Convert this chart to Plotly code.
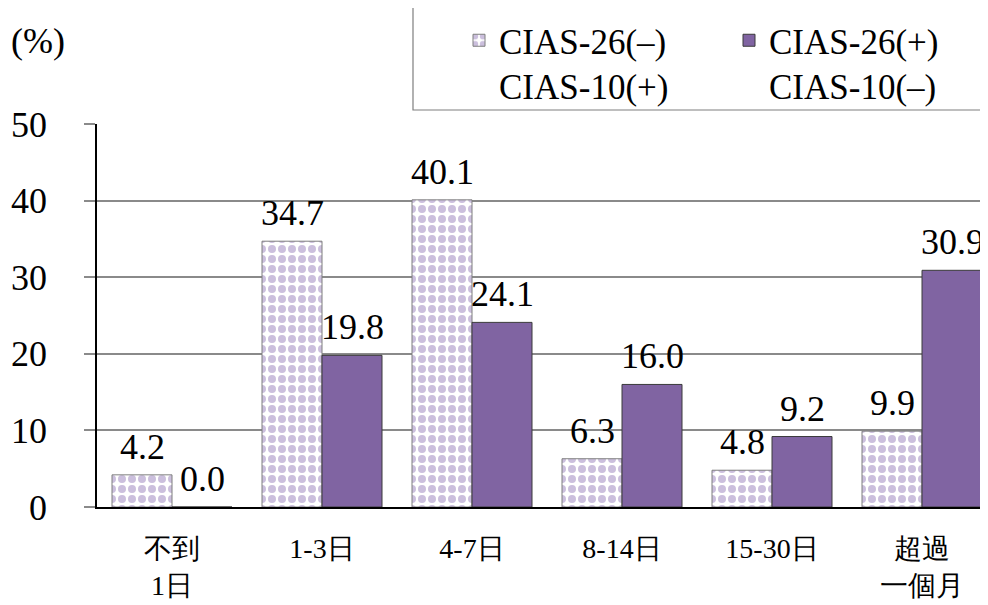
import plotly.graph_objects as go

categories = ["不到<br>1日", "1-3日", "4-7日", "8-14日", "15-30日", "超過<br>一個月"]
series_names = ["CIAS-26(–)<br>CIAS-10(+)", "CIAS-26(+)<br>CIAS-10(–)"]
values_a = [4.2, 34.7, 40.1, 6.3, 4.8, 9.9]
values_b = [0.0, 19.8, 24.1, 16.0, 9.2, 30.9]
y_ticks = [0, 10, 20, 30, 40, 50]

FONT = "Times New Roman, Liberation Serif, DejaVu Serif, serif"
OFF = 8  # page body margin
W, H = 988 - OFF, 605 - OFF
ML, MR, MT, MB = 97 - OFF, 0, 124 - OFF, 98
XR = [-0.5, 5.44]
BARGAP = 0.2

pw = W - ML - MR
ph = H - MT - MB


def px_x(x):  # reference pixel -> paper x
    return (x - OFF - ML) / pw


def px_y(y):  # reference pixel -> paper y
    return (H - MB - (y - OFF)) / ph


fig = go.Figure()
fig.add_trace(go.Bar(
    x=categories, y=values_a, name=series_names[0],
    marker=dict(color="white",
                pattern=dict(shape=".", fgcolor="#cbbfdd", bgcolor="white",
                             size=10, solidity=0.5, fillmode="replace"),
                line=dict(color="#7f7f7f", width=1)),
))
fig.add_trace(go.Bar(
    x=categories, y=values_b, name=series_names[1],
    marker=dict(color="#8064a2", line=dict(color="#3a3a3a", width=1)),
))

half = (1 - BARGAP) / 4
annotations = []
for vals, off in ((values_a, -half), (values_b, half)):
    for i, v in enumerate(vals):
        annotations.append(dict(
            x=i + off, y=v, xref="x", yref="y", text=f"{v:.1f}",
            showarrow=False, yanchor="bottom", yshift=6,
            font=dict(family=FONT, size=36, color="black")))

annotations.append(dict(x=px_x(9), y=px_y(41), xref="paper", yref="paper", text="(%)",
                        showarrow=False, xanchor="left", yanchor="middle",
                        font=dict(family=FONT, size=36, color="black")))

fig.update_layout(
    width=W, height=H,
    margin=dict(l=ML, r=MR, t=MT, b=MB, autoexpand=False),
    paper_bgcolor="white", plot_bgcolor="white",
    barmode="group", bargap=BARGAP, bargroupgap=0,
    font=dict(family=FONT, size=36, color="black"),
    xaxis=dict(range=XR, showgrid=False, showline=True, linecolor="black", linewidth=1.5,
               ticks="", tickfont=dict(family=FONT, size=28), ticklabelstandoff=16),
    yaxis=dict(range=[0, 50], tickvals=y_ticks, showgrid=True, gridcolor="#8a8a8a",
               gridwidth=1.5, showline=True, linecolor="black", linewidth=1.5,
               ticks="outside", ticklen=11, tickcolor="#8a8a8a", tickwidth=1.5,
               tickfont=dict(family=FONT, size=36), ticklabelstandoff=30, zeroline=False),
    legend=dict(orientation="h", x=px_x(459), y=px_y(11),
                xanchor="left", yanchor="top", bgcolor="rgba(0,0,0,0)", borderwidth=0,
                font=dict(family=FONT, size=35), entrywidth=225, valign="top",
                traceorder="normal"),
    annotations=annotations,
    shapes=[dict(type="rect", xref="paper", yref="paper",
                 x0=px_x(413), x1=1.05, y0=px_y(110), y1=px_y(2),
                 line=dict(color="#7f7f7f", width=1.2), fillcolor="rgba(0,0,0,0)")],
)
fig.write_html("out.html")
